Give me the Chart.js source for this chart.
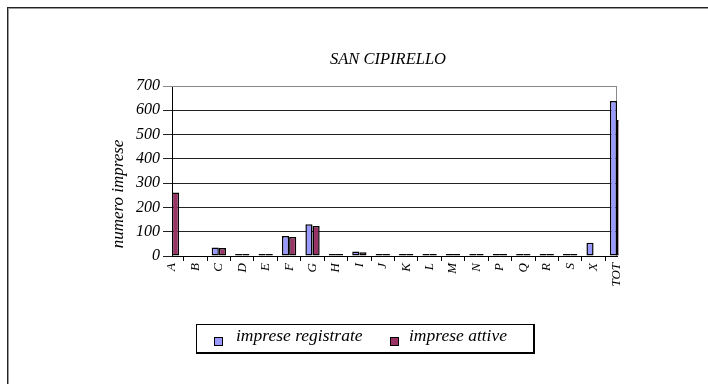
<!DOCTYPE html>
<html>
<head>
<meta charset="utf-8">
<title>SAN CIPIRELLO</title>
<script src="https://cdn.jsdelivr.net/npm/chart.js@4/dist/chart.umd.min.js"></script>
<style>
    body { margin: 0; background: #fff; width: 708px; height: 384px; overflow: hidden; position: relative; }
    #frame { position: absolute; left: 7px; top: 7px; width: 800px; height: 500px; border: 1px solid #222; box-shadow: 1px 1px 0 #999 inset; }
    #chart { position: absolute; left: 68px; top: 0; }
    #legend { position: absolute; left: 196px; top: 324px; width: 336px; height: 27px; border: 1px solid #000; border-right-width: 2px; border-bottom-width: 2px; }
    .sq { position: absolute; top: 12px; width: 7px; height: 7px; border: 1px solid #000; }
    .lbl { position: absolute; top: 0; line-height: 28px; font: italic 17.5px "Liberation Serif", "Times New Roman", serif; color: #000; white-space: nowrap; }
</style>
</head>
<body>
<div id="frame"></div>
<canvas id="chart" width="640" height="384"></canvas>
<div id="legend"></div>
<script>
const chartTitle = "SAN CIPIRELLO";
const yTitle = "numero imprese";
const categories = ["A", "B", "C", "D", "E", "F", "G", "H", "I", "J", "K", "L", "M", "N", "P", "Q", "R", "S", "X", "TOT"];
const registrate = [259, null, 35, 3, 3, 82, 131, 8, 19, 7, 5, 2, 7, 8, 2, 2, 2, 7, 55, 638];
const attive = [261, null, 33, 2, 2, 78, 124, 5, 15, 5, 4, 1, 6, 6, 1, 1, 1, 6, null, 560];
const yTicks = [0, 100, 200, 300, 400, 500, 600, 700];

const serif = '"Liberation Serif", "Times New Roman", serif';

// titoli e bordo area grafico
const extras = {
    id: "extras",
    beforeDatasetsDraw(chart) {
        const a = chart.chartArea;
        const ctx = chart.ctx;
        ctx.save();
        ctx.strokeStyle = "#8a8a8a";
        ctx.lineWidth = 1;
        ctx.beginPath();
        ctx.moveTo(a.left, a.top + 0.5);
        ctx.lineTo(a.right - 0.5, a.top + 0.5);
        ctx.lineTo(a.right - 0.5, a.bottom);
        ctx.stroke();
        ctx.restore();
    },
    afterDraw(chart) {
        const ctx = chart.ctx;
        ctx.save();
        ctx.fillStyle = "#000";
        ctx.textAlign = "center";
        ctx.textBaseline = "middle";
        ctx.font = "italic 16.5px " + serif;
        ctx.fillText(chartTitle, 320, 60);
        ctx.translate(51, 194);
        ctx.rotate(-Math.PI / 2);
        ctx.font = "italic 17px " + serif;
        ctx.fillText(yTitle, 0, 0);
        ctx.restore();
    }
};

let ctx = document.getElementById("chart").getContext("2d");

let chart = new Chart(ctx, {
    type: "bar",
    data: {
        labels: categories,
        datasets: [{
            label: "imprese registrate",
            data: registrate,
            backgroundColor: "#9999ff",
            borderColor: "#000",
            borderWidth: 1.5,
            borderSkipped: false,
            minBarLength: 2,
            clip: 0
        }, {
            label: "imprese attive",
            data: attive,
            backgroundColor: "#993366",
            borderColor: "#000",
            borderWidth: 1.5,
            borderSkipped: false,
            minBarLength: 2,
            clip: { left: 0, top: 0, right: 1.5, bottom: 0 }
        }]
    },
    options: {
        responsive: false,
        animation: false,
        categoryPercentage: 0.61,
        barPercentage: 1,
        layout: { padding: { left: 0, right: 91, top: 86, bottom: 0 } },
        plugins: {
            legend: { display: false },
            tooltip: { enabled: false },
            title: { display: false }
        },
        scales: {
            x: {
                offset: false,
                grid: { drawOnChartArea: false, tickLength: 5, color: "#000" },
                border: { color: "#000", width: 1 },
                ticks: {
                    color: "#000",
                    font: { family: serif, size: 13, style: "italic" },
                    minRotation: 90,
                    maxRotation: 90,
                    autoSkip: false,
                    padding: 2
                },
                afterFit(scale) { scale.height = 128; }
            },
            y: {
                min: 0,
                max: 700,
                afterBuildTicks(scale) { scale.ticks = yTicks.map(v => ({ value: v })); },
                grid: {
                    tickLength: 9,
                    color: (c) => c.tick && c.tick.value === 700 ? "#8a8a8a" : "#222"
                },
                border: { color: "#000", width: 1 },
                ticks: {
                    color: "#000",
                    font: { family: serif, size: 16, style: "italic" },
                    padding: 3
                },
                afterFit(scale) { scale.width = 104; }
            }
        }
    },
    plugins: [extras]
});

// legenda HTML costruita dai dataset
const legend = document.getElementById("legend");
const spots = [[17, 39], [193, 212]];
chart.data.datasets.forEach((ds, i) => {
    let sq = document.createElement("div");
    sq.className = "sq";
    sq.style.left = spots[i][0] + "px";
    sq.style.background = ds.backgroundColor;
    legend.appendChild(sq);
    let t = document.createElement("div");
    t.className = "lbl";
    t.style.left = spots[i][1] + "px";
    t.textContent = ds.label;
    legend.appendChild(t);
});
</script>
</body>
</html>
